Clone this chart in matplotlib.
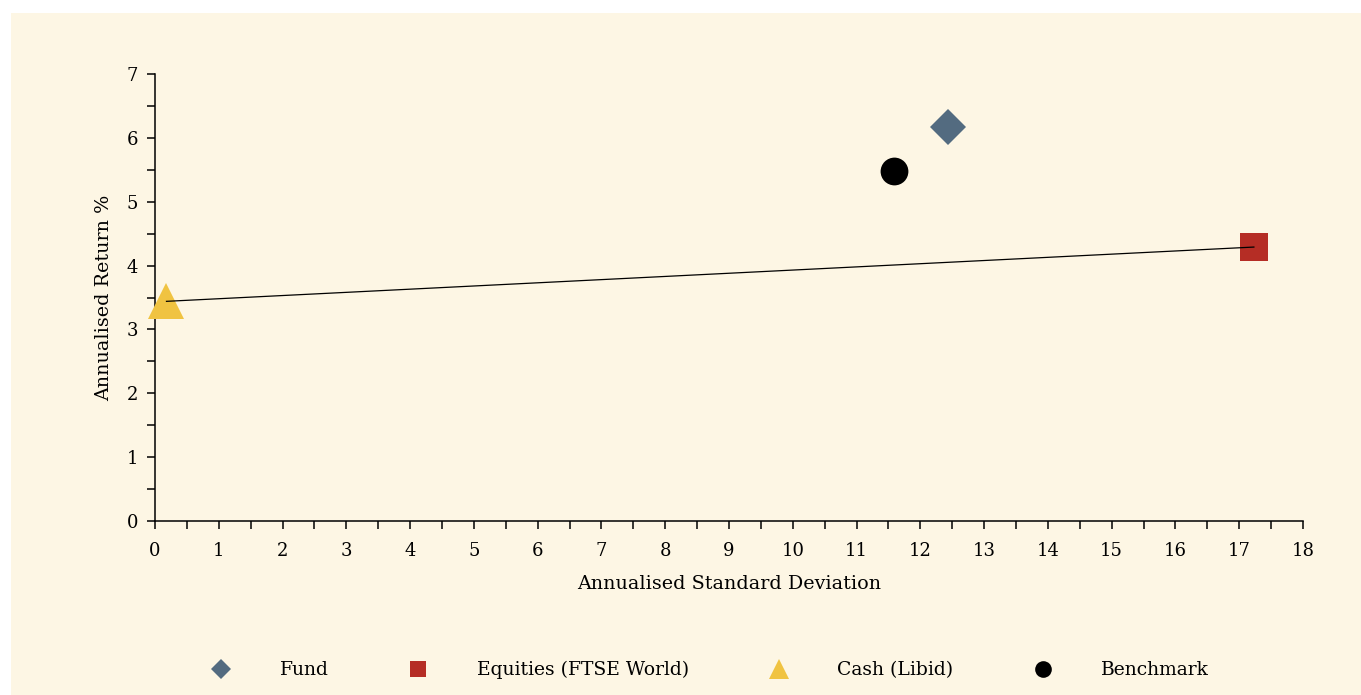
import numpy as np
import matplotlib
matplotlib.use("Agg")
import matplotlib.pyplot as plt
from matplotlib.lines import Line2D
from matplotlib.patches import Rectangle
from matplotlib.ticker import MultipleLocator

plt.rcParams['font.family'] = ['DejaVu Serif']

# data (std dev, return %)
names = ["Fund", "Equities (FTSE World)", "Cash (Libid)", "Benchmark"]
std_dev = [12.43, 17.23, 0.18, 11.59]
returns = [6.17, 4.29, 3.44, 5.48]
markers = ["D", "s", "^", "o"]
colors = ["#536b80", "#b52d25", "#f0c341", "#000000"]
sizes = [18.5, 19.5, 26.5, 20]
legend_sizes = [10.5, 11.5, 15, 12]

# capital market line: cash -> equities
line_x = [std_dev[2], std_dev[1]]
line_y = [returns[2], returns[1]]

bg = "#fdf6e4"
fig = plt.figure(figsize=(13.61, 6.95), dpi=100)
fig.patches.append(Rectangle((11 / 1361, 0), 1, 1 - 13 / 695, transform=fig.transFigure,
                             facecolor=bg, edgecolor="none", zorder=-10))

ax = fig.add_axes([155 / 1361, 1 - 521 / 695, 1148 / 1361, 447 / 695])
ax.set_facecolor(bg)
ax.patch.set_alpha(0)

for x, y, m, c, s in zip(std_dev, returns, markers, colors, sizes):
    ax.plot(x, y, marker=m, color=c, markersize=s, linestyle="none",
            markeredgewidth=0, zorder=3, clip_on=False)
ax.plot(line_x, line_y, color="black", linewidth=0.9, zorder=4)

ax.set_xlim(0, 18)
ax.set_ylim(0, 7)
ax.xaxis.set_major_locator(MultipleLocator(1))
ax.xaxis.set_minor_locator(MultipleLocator(0.5))
ax.yaxis.set_major_locator(MultipleLocator(1))
ax.yaxis.set_minor_locator(MultipleLocator(0.5))

for s in ["top", "right"]:
    ax.spines[s].set_visible(False)
for s in ["left", "bottom"]:
    ax.spines[s].set_linewidth(1.1)

ax.tick_params(which="both", direction="out", length=6, width=1.1, labelsize=13)
ax.tick_params(axis="x", pad=9)
ax.tick_params(axis="y", pad=6)

ax.set_xlabel("Annualised Standard Deviation", fontsize=13.8, labelpad=11)
ax.set_ylabel("Annualised Return %", fontsize=13.8, labelpad=10)

handles = [Line2D([], [], marker=m, color=c, markersize=s, linestyle="none", markeredgewidth=0)
           for m, c, s in zip(markers, colors, legend_sizes)]
fig.legend(handles, names, loc="center", bbox_to_anchor=(0.522, 1 - 670 / 695), ncol=4,
           frameon=False, fontsize=13.5, handlelength=1.0, handletextpad=2.6,
           columnspacing=4.3)

fig.savefig("out.png", dpi=100, facecolor="white")
